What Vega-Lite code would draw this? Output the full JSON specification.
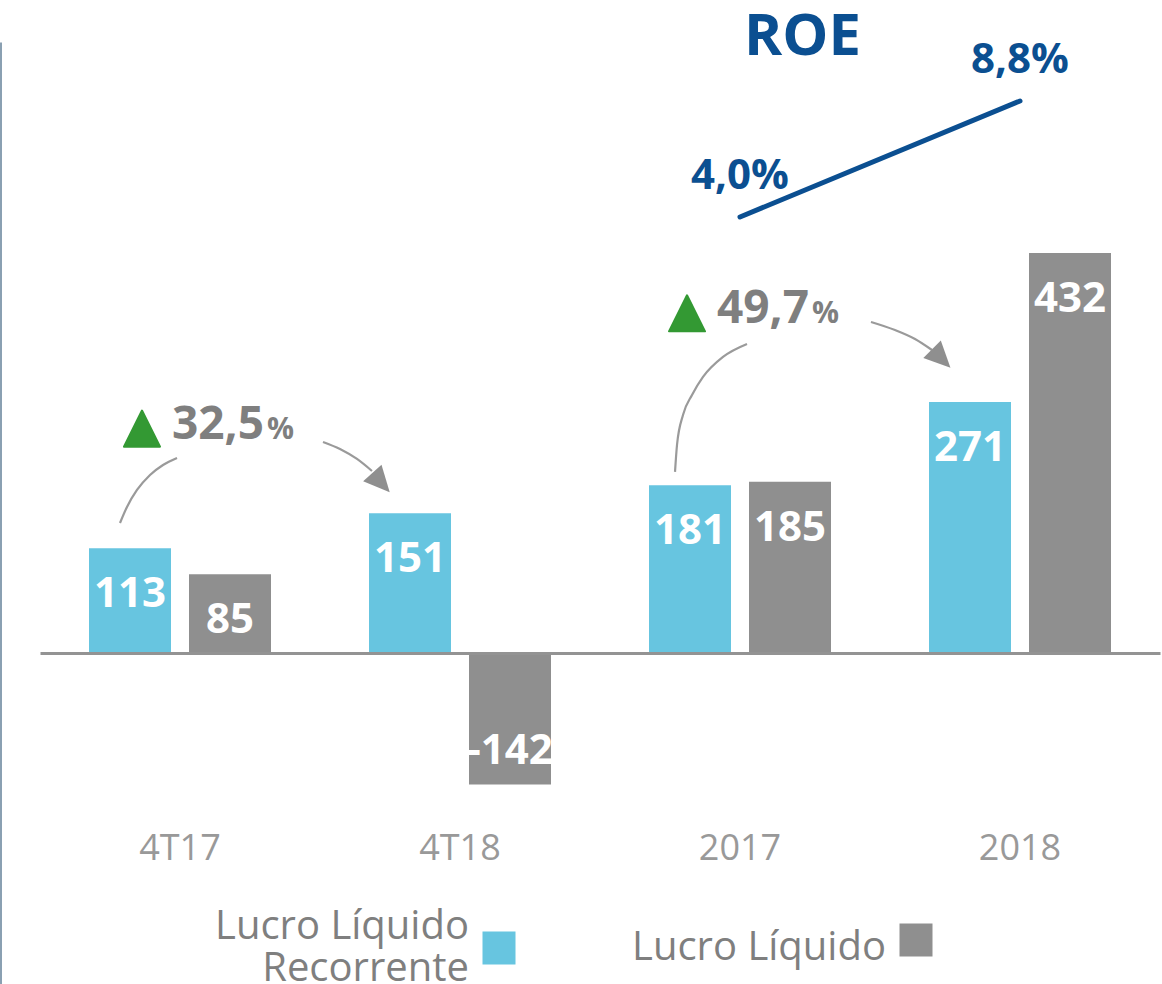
{
  "$schema": "https://vega.github.io/schema/vega-lite/v6.json",
  "width": 1162,
  "height": 942,
  "autosize": {"type": "none"},
  "padding": {"left": 0, "top": 42, "right": 0, "bottom": 0},
  "background": "white",
  "config": {"view": {"stroke": null}, "font": "Open Sans"},
  "title": {
    "text": "ROE",
    "anchor": "start",
    "frame": "group",
    "orient": "top",
    "offset": -74,
    "dx": 744,
    "baseline": "alphabetic",
    "fontSize": 58,
    "fontWeight": "bold",
    "color": "#0b4f91",
    "font": "Open Sans"
  },
  "datasets": {
    "bars": [
      {"period": "4T17", "series": "Lucro Líquido Recorrente", "value": 113},
      {"period": "4T17", "series": "Lucro Líquido", "value": 85},
      {"period": "4T18", "series": "Lucro Líquido Recorrente", "value": 151},
      {"period": "4T18", "series": "Lucro Líquido", "value": -142},
      {"period": "2017", "series": "Lucro Líquido Recorrente", "value": 181},
      {"period": "2017", "series": "Lucro Líquido", "value": 185},
      {"period": "2018", "series": "Lucro Líquido Recorrente", "value": 271},
      {"period": "2018", "series": "Lucro Líquido", "value": 432}
    ],
    "roe": [
      {"period": "2017", "roe": 4.0, "label": "4,0%"},
      {"period": "2018", "roe": 8.8, "label": "8,8%"}
    ],
    "arcs": [
      {"seg": "a1", "u": 0.2857, "v": 140.4},
      {"seg": "a1", "u": 0.3107, "v": 157.7},
      {"seg": "a1", "u": 0.3464, "v": 176.0},
      {"seg": "a1", "u": 0.3929, "v": 192.2},
      {"seg": "a1", "u": 0.4393, "v": 203.0},
      {"seg": "a1", "u": 0.4893, "v": 210.6},
      {"seg": "b1", "u": 1.0107, "v": 227.9},
      {"seg": "b1", "u": 1.0714, "v": 220.3},
      {"seg": "b1", "u": 1.1321, "v": 209.5},
      {"seg": "b1", "u": 1.1857, "v": 196.5},
      {"seg": "a2", "u": 2.2679, "v": 195.5},
      {"seg": "a2", "u": 2.2750, "v": 224.6},
      {"seg": "a2", "u": 2.2964, "v": 257.0},
      {"seg": "a2", "u": 2.3286, "v": 278.6},
      {"seg": "a2", "u": 2.3679, "v": 298.1},
      {"seg": "a2", "u": 2.4393, "v": 319.7},
      {"seg": "a2", "u": 2.5250, "v": 333.7},
      {"seg": "b2", "u": 2.9679, "v": 357.5},
      {"seg": "b2", "u": 3.0536, "v": 348.8},
      {"seg": "b2", "u": 3.1250, "v": 339.1},
      {"seg": "b2", "u": 3.1857, "v": 327.2}
    ],
    "heads": [
      {"arrow": "1", "u": 1.2179, "v": 183.9},
      {"arrow": "2", "u": 3.2188, "v": 318.0}
    ],
    "pct": [
      {"label": "32,5", "u": 0.4714, "v": 231.5},
      {"label": "49,7", "u": 2.4179, "v": 356.0}
    ]
  },
  "layer": [
    {
      "data": {"name": "bars"},
      "encoding": {
        "x": {
          "field": "period",
          "type": "nominal",
          "sort": ["4T17", "4T18", "2017", "2018"],
          "scale": {"domain": ["4T17", "4T18", "2017", "2018"], "range": [40, 1160], "paddingInner": 0, "paddingOuter": 0},
          "axis": {
            "title": null,
            "orient": "bottom",
            "offset": -331,
            "domain": true,
            "domainColor": "#939393",
            "domainWidth": 3,
            "ticks": false,
            "tickSize": 0,
            "labelPadding": 195,
            "labelBaseline": "middle",
            "labelFontSize": 36,
            "labelFont": "Open Sans",
            "labelColor": "#999999",
            "labelAngle": 0,
            "grid": false,
            "zindex": 1
          }
        },
        "xOffset": {
          "field": "series",
          "type": "nominal",
          "sort": ["Lucro Líquido Recorrente", "Lucro Líquido"],
          "scale": {"domain": ["Lucro Líquido Recorrente", "Lucro Líquido"], "paddingInner": 0.18, "paddingOuter": 0.49}
        },
        "y": {
          "field": "value",
          "type": "quantitative",
          "scale": {"domain": [-357.5, 659.8], "nice": false, "zero": false},
          "axis": {
            "title": null,
            "orient": "left",
            "offset": 0,
            "domain": true,
            "domainColor": "#8aa0b2",
            "domainWidth": 3,
            "labels": false,
            "ticks": false,
            "grid": false
          }
        }
      },
      "layer": [
        {
          "mark": {"type": "bar"},
          "encoding": {
            "color": {
              "field": "series",
              "type": "nominal",
              "scale": {"domain": ["Lucro Líquido Recorrente", "Lucro Líquido"], "range": ["#67c5e0", "#8f8f8f"]},
              "legend": {
                "title": null,
                "orient": "none",
                "legendX": 479,
                "legendY": 865,
                "direction": "horizontal",
                "padding": 0,
                "symbolType": "square",
                "symbolSize": 1089,
                "symbolStrokeWidth": 0,
                "labelFontSize": 40,
                "labelFont": "Open Sans",
                "labelColor": "#7f7f7f",
                "labelAlign": "right",
                "labelBaseline": "middle",
                "labelOffset": -50,
                "labelLimit": 600,
                "columnPadding": 116,
                "labelExpr": "datum.label == 'Lucro Líquido Recorrente' ? ['Lucro Líquido', 'Recorrente'] : datum.label",
                "encode": {
                  "symbols": {
                    "update": {
                      "y": {"signal": "datum.value == 'Lucro Líquido Recorrente' ? 41 : 12"}
                    }
                  }
                }
              }
            }
          }
        },
        {
          "transform": [{"filter": "datum.value >= 0"}],
          "mark": {"type": "text", "color": "white", "fontSize": 42, "fontWeight": "bold", "font": "Open Sans", "baseline": "middle", "dy": 46},
          "encoding": {"text": {"field": "value", "type": "nominal"}}
        },
        {
          "transform": [{"filter": "datum.value < 0"}],
          "mark": {"type": "text", "color": "white", "fontSize": 42, "fontWeight": "bold", "font": "Open Sans", "baseline": "middle", "dy": -33},
          "encoding": {"text": {"field": "value", "type": "nominal"}}
        }
      ]
    },
    {
      "data": {"name": "roe"},
      "encoding": {
        "x": {
          "field": "period",
          "type": "nominal",
          "scale": {"domain": ["4T17", "4T18", "2017", "2018"], "range": [40, 1160], "paddingInner": 0, "paddingOuter": 0},
          "axis": null
        },
        "y": {
          "field": "roe",
          "type": "quantitative",
          "scale": {"domain": [-27.737, 11.241], "nice": false, "zero": false},
          "axis": null
        }
      },
      "layer": [
        {"mark": {"type": "line", "color": "#0b4f91", "strokeWidth": 5, "strokeCap": "round"}},
        {
          "mark": {"type": "text", "color": "#0b4f91", "fontSize": 42, "fontWeight": "bold", "font": "Open Sans", "baseline": "middle", "dy": -41},
          "encoding": {"text": {"field": "label", "type": "nominal"}}
        }
      ]
    },
    {
      "encoding": {
        "x": {"field": "u", "type": "quantitative", "scale": {"domain": [0, 4], "range": [40, 1160], "nice": false, "zero": false}, "axis": null},
        "y": {"field": "v", "type": "quantitative", "scale": {"domain": [-357.5, 659.8], "nice": false, "zero": false}, "axis": null}
      },
      "layer": [
        {
          "data": {"name": "arcs"},
          "mark": {"type": "line", "color": "#9a9a9a", "strokeWidth": 2.2, "interpolate": "monotone"},
          "encoding": {"detail": {"field": "seg", "type": "nominal"}}
        },
        {
          "data": {"name": "heads"},
          "transform": [{"filter": "datum.arrow == '1'"}],
          "mark": {"type": "point", "shape": "M0,-1L0.95,1L-0.95,1Z", "filled": true, "color": "#8f8f8f", "opacity": 1, "size": 676, "angle": 138, "strokeWidth": 0}
        },
        {
          "data": {"name": "heads"},
          "transform": [{"filter": "datum.arrow == '2'"}],
          "mark": {"type": "point", "shape": "M0,-1L0.95,1L-0.95,1Z", "filled": true, "color": "#8f8f8f", "opacity": 1, "size": 676, "angle": 135, "strokeWidth": 0}
        },
        {
          "data": {"name": "pct"},
          "mark": {"type": "point", "shape": "M0,-1L1,1L-1,1Z", "filled": true, "color": "#339933", "opacity": 1, "size": 1300, "stroke": "#339933", "strokeWidth": 2, "strokeJoin": "round", "xOffset": -30, "yOffset": -10}
        },
        {
          "data": {"name": "pct"},
          "mark": {"type": "text", "align": "left", "baseline": "alphabetic", "fontSize": 46, "fontWeight": "bold", "font": "Open Sans", "color": "#7f7f7f"},
          "encoding": {"text": {"field": "label", "type": "nominal"}}
        },
        {
          "data": {"name": "pct"},
          "mark": {"type": "text", "align": "left", "baseline": "alphabetic", "fontSize": 30, "fontWeight": "bold", "font": "Open Sans", "color": "#7f7f7f", "dx": 95},
          "encoding": {"text": {"value": "%"}}
        }
      ]
    }
  ],
  "resolve": {"scale": {"x": "independent", "y": "independent"}}
}
